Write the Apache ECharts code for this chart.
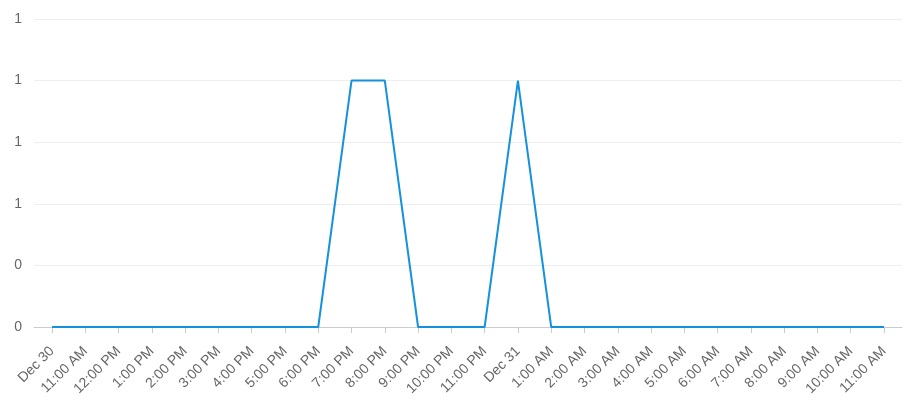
<!DOCTYPE html>
<html><head><meta charset="utf-8">
<script src="https://cdn.jsdelivr.net/npm/echarts@6/dist/echarts.min.js"></script>
<style>html,body{margin:0;padding:0;background:#fff}#c{width:912px;height:417px}</style>
</head><body><div id="c"></div>
<script>
const categories = ['Dec 30','11:00 AM','12:00 PM','1:00 PM','2:00 PM','3:00 PM','4:00 PM','5:00 PM','6:00 PM','7:00 PM','8:00 PM','9:00 PM','10:00 PM','11:00 PM','Dec 31','1:00 AM','2:00 AM','3:00 AM','4:00 AM','5:00 AM','6:00 AM','7:00 AM','8:00 AM','9:00 AM','10:00 AM','11:00 AM'];
const values = [0,0,0,0,0,0,0,0,0,1,1,0,0,0,1,0,0,0,0,0,0,0,0,0,0,0];
const yMin = 0, yMax = 1.25, yStep = 0.25;

const chart = echarts.init(document.getElementById('c'), null, {renderer:'canvas'});
chart.setOption({
  animation:false,
  grid:[
    {left:52, right:28, top:19, bottom:90},
    {left:34, right:10, top:19, bottom:90}
  ],
  xAxis:[
    {type:'category', gridIndex:0, data:categories, boundaryGap:false,
     axisLine:{show:false},
     axisTick:{show:true, length:6, lineStyle:{color:'#ccc'}},
     axisLabel:{rotate:45, color:'#666', fontSize:14, margin:22, interval:0, fontFamily:'Arial, Liberation Sans, sans-serif'},
     splitLine:{show:false}},
    {type:'value', gridIndex:1, min:0, max:1,
     axisLine:{show:true, lineStyle:{color:'#ccc'}},
     axisTick:{show:false}, axisLabel:{show:false}, splitLine:{show:false}}
  ],
  yAxis:[
    {type:'value', gridIndex:0, min:yMin, max:yMax, interval:yStep, show:false},
    {type:'value', gridIndex:1, min:yMin, max:yMax, interval:yStep,
     axisLine:{show:false}, axisTick:{show:false},
     axisLabel:{color:'#666', fontSize:14, margin:12, fontFamily:'Arial, Liberation Sans, sans-serif',
       formatter:v=>String(Math.round(v))},
     splitLine:{lineStyle:{color:'#eee'}}}
  ],
  series:[
    {type:'line', xAxisIndex:0, yAxisIndex:0, data:values, showSymbol:false,
     lineStyle:{color:'#1592dc', width:2}, itemStyle:{color:'#1592dc'}, z:5}
  ]
});
</script></body></html>
